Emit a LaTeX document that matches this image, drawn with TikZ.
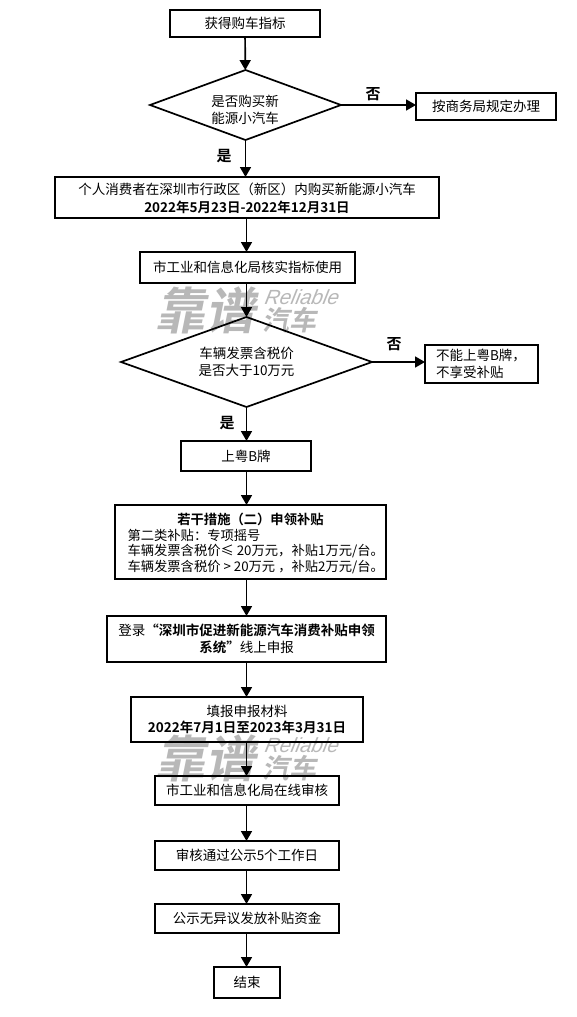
\documentclass[tikz,border=0pt]{standalone}
\usepackage{fontspec}
\usetikzlibrary{shapes.geometric,arrows.meta}
\setmainfont{Noto Sans CJK SC}[BoldFont={Noto Sans CJK SC Bold}]
\newfontfamily\wmfont{Noto Sans CJK SC Bold}
\newfontfamily\wmlatin{Liberation Sans}
\definecolor{wm}{gray}{0.72}
\newcommand{\fs}{\fontsize{13.5}{16.5}\selectfont}
\newcommand{\rbox}[6]{\node[boxn,minimum width=#4pt-#3pt,minimum height=#6pt-#5pt] (#1) at ({(#3+#4)/2},{(#5+#6)/2}) {#2};}
\newcommand{\dbox}[6]{\pgfmathsetmacro\myasp{(#4-#3)/(#6-#5)}\node[dec,aspect=\myasp,minimum width=#4pt-#3pt,minimum height=#6pt-#5pt] (#1) at ({(#3+#4)/2},{(#5+#6)/2}) {#2};}
\newcommand{\wl}[1]{\makebox[258pt][l]{\hspace*{6pt}#1}}
\newcommand{\watermark}[3]{%
  \begin{scope}[shift={(#2,#3)}]
    \node[wmk,font=\wmfont\fontsize{50}{50}\selectfont] (#1a) at (-41,0) {靠谱};
    \node[wmk,font=\wmlatin\itshape\fontsize{20.5}{20}\selectfont] (#1b) at (52.5,-13) {Reliable};
    \node[wmk,font=\wmfont\fontsize{27}{27}\selectfont] (#1c) at (42,10) {汽车};
  \end{scope}}
\tikzset{
  x=1pt,y=-1pt,
  base/.style={draw=black,line width=1.7pt,font=\fs,text=black,inner sep=0pt,outer sep=0pt,align=center},
  boxn/.style={base,rectangle},
  dec/.style={base,diamond},
  txt/.style={font=\fs,text=black,inner sep=0pt,align=center},
  arr/.style={draw=black,line width=1.7pt,-{Triangle[length=10pt,width=11pt]}},
  lab/.style={font=\fontsize{15}{16}\selectfont\bfseries,inner sep=0pt},
  wmk/.style={text=wm,inner sep=0pt,anchor=center,xslant=0.2,transform shape},
}
\begin{document}
\begin{tikzpicture}
\useasboundingbox (0,0) rectangle (576,1017);
\fill[white] (0,0) rectangle (576,1017);
\watermark{wa}{250}{310}
\watermark{wb}{250}{758}
\coordinate (spine) at (246.5,0);
\rbox{a}{获得购车指标}{170}{320}{10}{37}
\dbox{d1}{}{150}{341}{70}{140}
\node[txt] (d1t) at (245,110) {是否购买新\\能源小汽车};
\rbox{r1}{按商务局规定办理}{416}{556}{93}{120}
\rbox{b}{}{55}{439}{177}{218}
\node[txt] (bt) at (247,198.5) {个人消费者在深圳市行政区（新区）内购买新能源小汽车\\[2pt]\textbf{2022年5月23日-2022年12月31日}};
\rbox{c}{市工业和信息化局核实指标使用}{140}{355}{252}{283}
\dbox{d2}{车辆发票含税价\\是否大于10万元}{121}{372}{317}{407}
\rbox{r2}{\makebox[91pt][l]{不能上粤B牌，}\\\makebox[91pt][l]{不享受补贴}}{425}{538}{345}{383}
\rbox{e}{上粤B牌}{181}{311}{441}{471}
\rbox{f}{}{115}{386}{505}{579}
\node[txt,font=\fontsize{13.3}{15.7}\selectfont] (ft) at (250.5,543.5) {\makebox[258pt][c]{\textbf{若干措施（二）申领补贴}}\\\wl{第二类补贴：专项摇号}\\\wl{车辆发票含税价≤ 20万元，补贴1万元/台。}\\\wl{车辆发票含税价 > 20万元 ，补贴2万元/台。}};
\rbox{g}{登录\textbf{“深圳市促进新能源汽车消费补贴申领}\\\textbf{系统”}线上申报}{107}{386}{616}{662}
\rbox{h}{填报申报材料\\\textbf{2022年7月1日至2023年3月31日}}{131}{363}{697}{742}
\rbox{i}{市工业和信息化局在线审核}{155}{339}{776}{805}
\rbox{j}{审核通过公示5个工作日}{155}{339}{841}{870}
\rbox{k}{公示无异议发放补贴资金}{155}{339}{904}{933}
\rbox{l}{结束}{214}{280}{967}{998}
\node[lab] (n1) at (373,94) {否};
\node[lab] (y1) at (224,156) {是};
\node[lab] (n2) at (394,344) {否};
\node[lab] (y2) at (227,423) {是};
\draw[arr] (a) -- (d1);
\draw[arr] (d1.east) -- (d1.east -| r1.west);
\draw[arr] (d1.south) -- (d1.south |- b.north);
\foreach \p/\q in {b/c,c/d2,d2/e,e/f,f/g,g/h,h/i,i/j,j/k,k/l}{
  \draw[arr] (\p.south -| spine) -- (\q.north -| spine);
}
\draw[arr] (d2.east) -- (d2.east -| r2.west);
\end{tikzpicture}
\end{document}
